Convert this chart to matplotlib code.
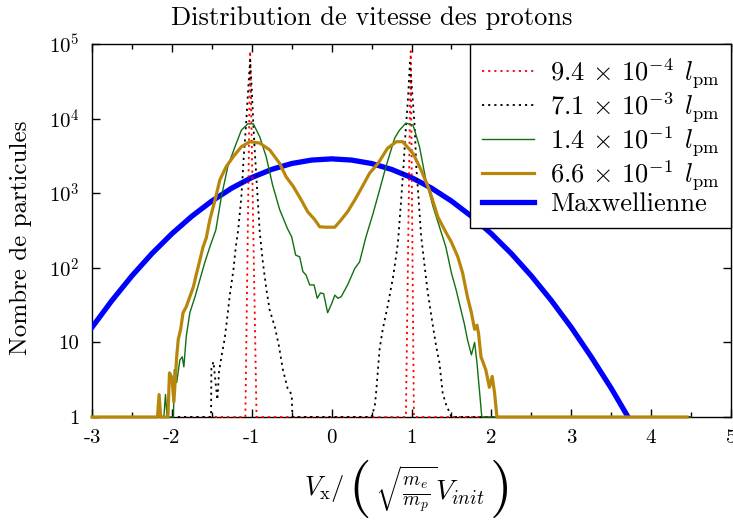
import matplotlib
matplotlib.use('Agg')
import matplotlib.pyplot as plt
from matplotlib.ticker import MultipleLocator, NullLocator
from matplotlib.offsetbox import TextArea, HPacker, AnchoredOffsetbox

plt.rcParams['font.family'] = ['cmr10', 'DejaVu Serif']
plt.rcParams['mathtext.fontset'] = 'cm'
plt.rcParams['axes.unicode_minus'] = False
plt.rcParams['axes.formatter.use_mathtext'] = True

# values (zero counts are drawn at 1)
red_x = [-3.0, -1.08, -1.02, -0.94, 0.93, 0.99, 1.03, 4.5]
red_y = [1, 1, 8e4, 1, 1, 8e4, 1, 1]

black_x = [-3.0, -1.51, -1.505, -1.48, -1.43, -1.41, -1.38, -1.34, -1.31, -1.275, -1.23, -1.2,
           -1.17, -1.13, -1.10, -1.07, -1.04, -1.02, -1.0, -0.97, -0.94, -0.9, -0.86, -0.815,
           -0.775, -0.71, -0.66, -0.61, -0.55, -0.5, -0.49,
           0.5, 0.54, 0.56, 0.58, 0.6, 0.64, 0.70, 0.77, 0.83, 0.87, 0.90, 0.925, 0.955, 0.98,
           1.0, 1.04, 1.06, 1.09, 1.12, 1.16, 1.2, 1.25, 1.31, 1.35, 1.39, 1.43, 1.5, 4.5]
black_y = [1, 1, 4.5, 5.5, 1.7, 4, 6.4, 11, 20, 43, 93, 190,
           320, 900, 3100, 8700, 30000, 61000, 24000, 5100, 1500, 300, 116, 50,
           27, 16, 9, 4.3, 2.4, 2, 1,
           1, 1.4, 2.3, 4.3, 8, 15, 30, 76, 215, 800, 2270, 6400, 17800, 56000,
           30000, 7800, 2270, 800, 270, 116, 50, 22, 8.7, 5.3, 2.1, 1.5, 1, 1]

green_x = [-3.0, -2.1, -2.08, -2.06, -1.98, -1.97, -1.94, -1.9, -1.87, -1.85, -1.82, -1.775,
           -1.71, -1.65, -1.59, -1.525, -1.45, -1.38, -1.30, -1.21, -1.13, -1.05, -0.98, -0.9,
           -0.82, -0.74, -0.65, -0.55, -0.5, -0.45, -0.4, -0.36, -0.32, -0.275, -0.22, -0.18,
           -0.14, -0.10, -0.05, 0.0, 0.04, 0.08, 0.12, 0.20, 0.29, 0.35, 0.43, 0.52, 0.6, 0.68,
           0.79, 0.85, 0.93, 1.02, 1.1, 1.18, 1.27, 1.39, 1.43, 1.5, 1.56, 1.62, 1.66, 1.70,
           1.75, 1.79, 1.82, 1.85, 1.88, 4.5]
green_y = [1, 1, 2, 1, 1, 4.3, 2.9, 5.8, 6.4, 4.7, 12, 25,
           41, 69, 116, 190, 320, 900, 2270, 4200, 7000, 8500, 8500, 5700,
           3100, 1300, 600, 330, 260, 148, 140, 89, 80, 59, 59, 39,
           46, 45, 25, 33, 43, 39, 41, 59, 98, 120, 260, 540, 1100, 2270,
           5500, 7000, 8700, 8200, 4200, 1500, 660, 260, 190, 85, 50, 27, 18, 11,
           6.8, 10, 5.3, 2.3, 1, 1]

orange_x = [-3.0, -2.18, -2.16, -2.14, -2.05, -2.03, -2.0, -1.975, -1.94, -1.92, -1.89, -1.86,
            -1.82, -1.775, -1.73, -1.69, -1.65, -1.61, -1.57, -1.525, -1.46, -1.4, -1.32, -1.23,
            -1.13, -1.025, -0.9, -0.775, -0.65, -0.57, -0.48, -0.38, -0.3, -0.21, -0.15, -0.07,
            0.04, 0.12, 0.2, 0.29, 0.37, 0.475, 0.58, 0.70, 0.81, 0.89, 1.02, 1.12, 1.225, 1.33,
            1.43, 1.50, 1.58, 1.64, 1.70, 1.75, 1.79, 1.82, 1.84, 1.87, 1.93, 1.975, 2.01, 2.04,
            2.07, 4.45]
orange_y = [1, 1, 2, 1, 1, 3.9, 3.4, 1.6, 6.4, 11, 15, 25,
            30, 41, 56, 85, 126, 190, 250, 440, 810, 1500, 2270, 3100,
            4200, 4900, 4700, 3800, 2500, 1660, 1230, 810, 565, 440, 355, 350,
            350, 440, 565, 810, 1150, 1850, 2500, 4000, 4900, 4900, 3400, 2050, 1100, 480,
            300, 220, 140, 85, 41, 25, 15, 17, 13, 6.4, 4.3, 2.5, 3.5, 2.1,
            1, 1]

maxw_x = [-3.0, -2.75, -2.5, -2.25, -2.0, -1.75, -1.5, -1.25, -1.0, -0.75, -0.5, -0.25, 0.0,
          0.25, 0.5, 0.75, 1.0, 1.25, 1.5, 1.75, 2.0, 2.25, 2.5, 2.75, 3.0, 3.25, 3.5, 3.75]
maxw_y = [15.9, 36.5, 78, 155, 286, 491, 785, 1170, 1620, 2085, 2500, 2780, 2885,
          2780, 2500, 2085, 1620, 1170, 785, 491, 286, 155, 78, 36.5, 15.9, 6.4, 2.43, 0.85]

labels = [r'$9.4\,\times\,10^{-4}\;\,l_{\mathrm{pm}}$',
          r'$7.1\,\times\,10^{-3}\;\,l_{\mathrm{pm}}$',
          r'$1.4\,\times\,10^{-1}\;\,l_{\mathrm{pm}}$',
          r'$6.6\,\times\,10^{-1}\;\,l_{\mathrm{pm}}$',
          'Maxwellienne']

xticks = [-3, -2, -1, 0, 1, 2, 3, 4, 5]
yticks = [1, 10, 100, 1000, 10000, 100000]
ytick_labels = ['1', '10', r'$10^{2}$', r'$10^{3}$', r'$10^{4}$', r'$10^{5}$']

fig = plt.figure(figsize=(7.33, 5.27), dpi=100)
ax = fig.add_axes([92 / 733, 1 - 417 / 527, (731 - 92) / 733, (417 - 44) / 527])

dots = (0, (1.2, 2.2))
ax.plot(red_x, red_y, color='red', lw=1.3, ls=dots, label=labels[0], zorder=3, clip_on=False)
ax.plot(black_x, black_y, color='black', lw=1.3, ls=dots, label=labels[1], zorder=3.1, clip_on=False)
ax.plot(green_x, green_y, color='#107010', lw=1.0, label=labels[2], zorder=3.2, clip_on=False)
ax.plot(orange_x, orange_y, color='#b8860b', lw=2.3, label=labels[3], zorder=3.3, clip_on=False)
ax.plot(maxw_x, maxw_y, color='#0000ff', lw=3.8, label=labels[4], zorder=2.6)

ax.set_yscale('log')
ax.set_xlim(-3, 5)
ax.set_ylim(1, 1e5)
ax.set_xticks(xticks)
ax.set_xticklabels([str(t) for t in xticks])
ax.xaxis.set_minor_locator(MultipleLocator(0.5))
ax.set_yticks(yticks)
ax.set_yticklabels(ytick_labels)
ax.yaxis.set_minor_locator(NullLocator())
ax.tick_params(which='both', direction='in', top=True, right=True, labelsize=15, width=1)
ax.tick_params(axis='y', which='major', length=6, pad=9)
ax.tick_params(axis='x', which='major', length=6, pad=9)
ax.tick_params(which='minor', length=3.5)
for s in ax.spines.values():
    s.set_linewidth(1.0)

ax.set_ylabel('Nombre de particules', fontsize=18)
ax.yaxis.set_label_coords(-0.094, 0.48)

# x label built from pieces so the parentheses come out tall
xl_parts = [TextArea(r'$V_{\mathrm{x}}/$', textprops=dict(fontsize=19)),
            TextArea('(', textprops=dict(fontsize=42)),
            TextArea(r'$\sqrt{\frac{m_e}{m_p}}V_{init}$', textprops=dict(fontsize=20)),
            TextArea(')', textprops=dict(fontsize=42))]
xl_box = HPacker(children=xl_parts, align='center', pad=0, sep=3)
xl_anchor = AnchoredOffsetbox(loc='center', child=xl_box, frameon=False, pad=0, borderpad=0,
                              bbox_to_anchor=(408 / 733, 1 - 489 / 527),
                              bbox_transform=fig.transFigure)
fig.add_artist(xl_anchor)

fig.text(372 / 733, 1 - 18 / 527, 'Distribution de vitesse des protons', fontsize=19,
         ha='center', va='center')

leg = ax.legend(loc='upper right', bbox_to_anchor=(1.0, 1.0), borderaxespad=0, fontsize=19,
                frameon=True, fancybox=False, edgecolor='black', framealpha=1,
                handlelength=1.95, handletextpad=0.6, labelspacing=0.02, borderpad=0.45)
leg.get_frame().set_linewidth(1.0)
leg.set_zorder(5)

fig.savefig('out.png', dpi=100)
